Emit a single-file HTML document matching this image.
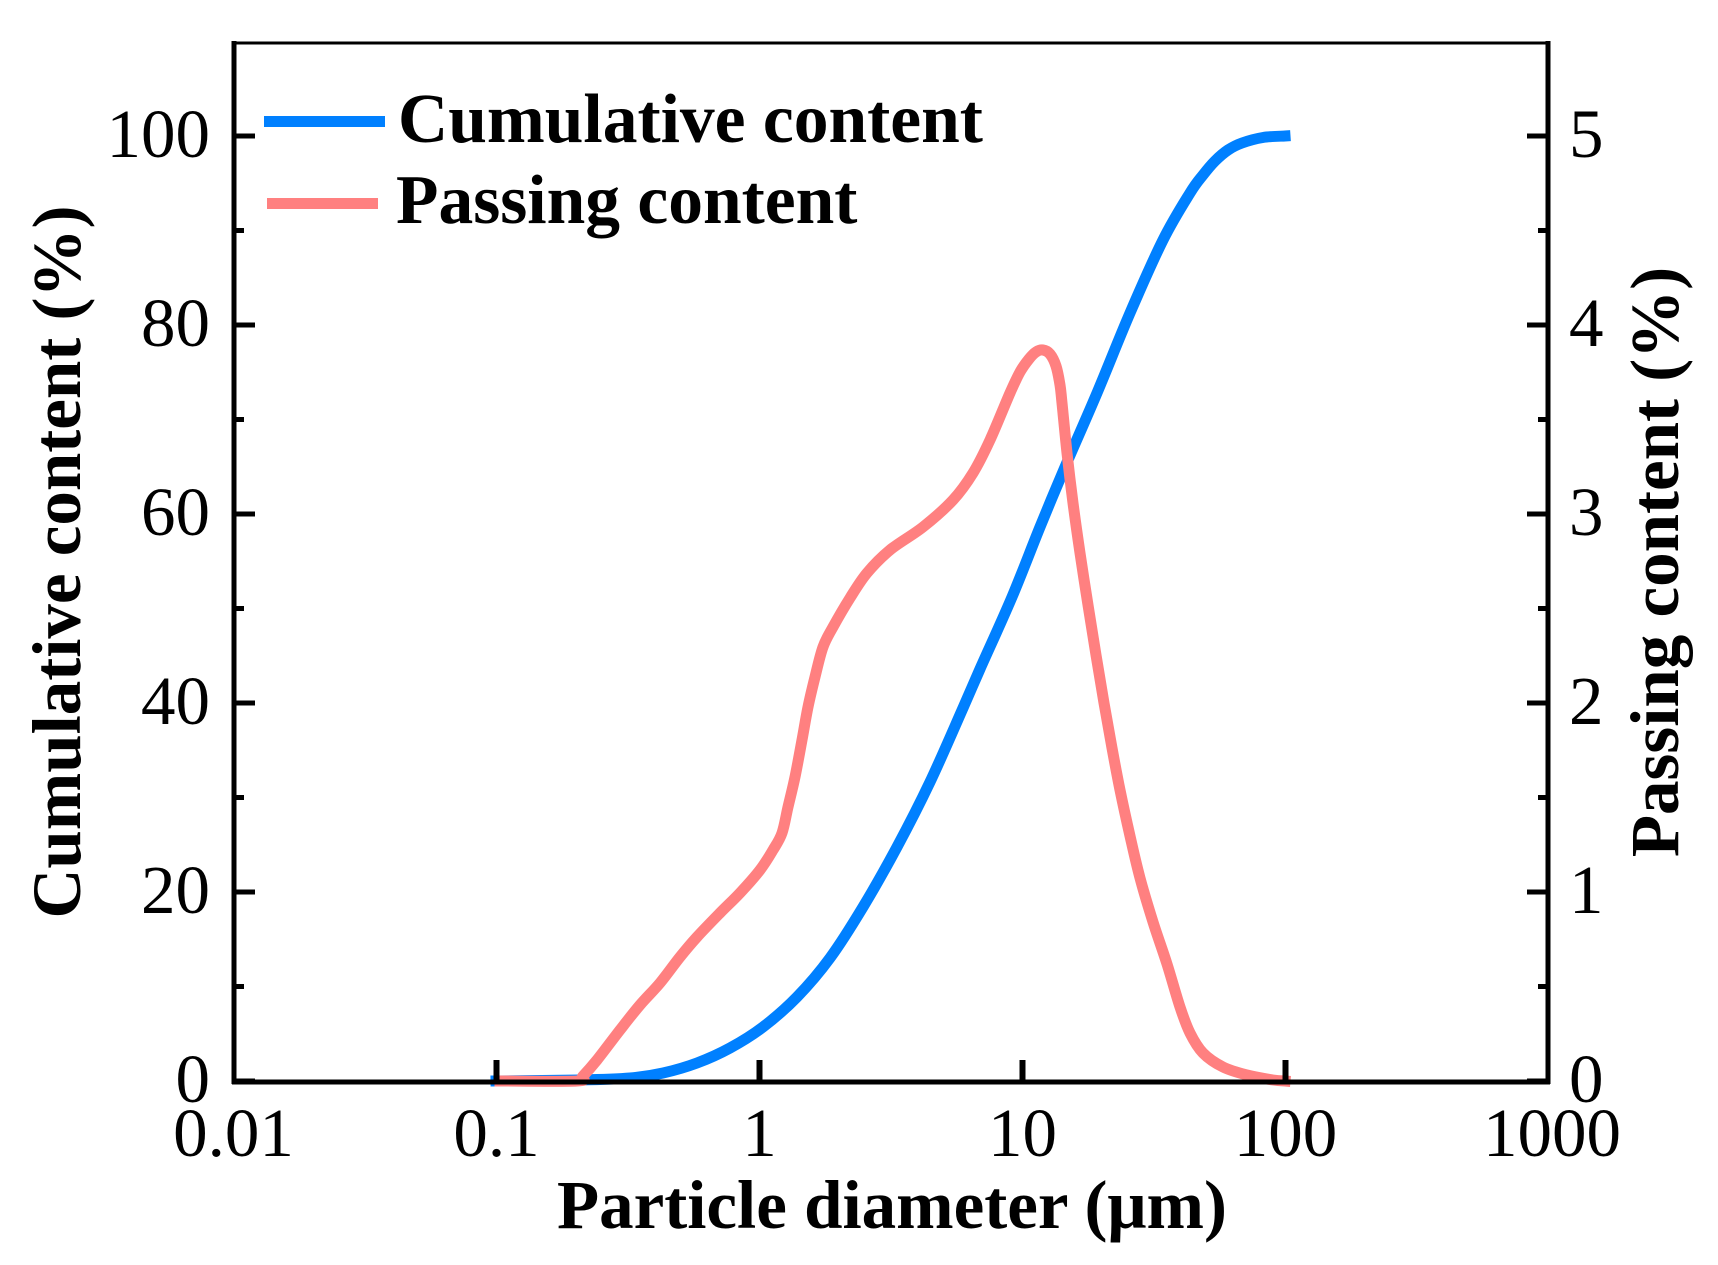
<!DOCTYPE html>
<html>
<head>
<meta charset="utf-8">
<style>
  html,body{margin:0;padding:0;background:#fff;}
  svg{display:block;}
  text{font-family:"Liberation Serif","Times New Roman",serif;fill:#000;}
  .tick{font-size:69px;}
  .title{font-size:69px;font-weight:bold;}
  .leg{font-size:69.5px;font-weight:bold;}
</style>
</head>
<body>
<svg width="1718" height="1265" viewBox="0 0 1718 1265" xmlns="http://www.w3.org/2000/svg">
  <rect x="0" y="0" width="1718" height="1265" fill="#fff"/>

  <!-- curves -->
  <polyline id="blue" fill="none" stroke="#0080ff" stroke-width="11" stroke-linejoin="round" stroke-linecap="square"
    points="496,1081 580,1080 630,1078 663,1073 697,1063 730,1048 763,1027 797,997 830,958 863,907 897,847 930,782 963,708 980,669 1012,597 1040,527 1065,467 1097,393 1130,313 1163,240 1190,193 1203,175 1215,161 1228,150 1242,143 1263,137.5 1285,136"/>
  <polyline id="pink" fill="none" stroke="#ff8080" stroke-width="11" stroke-linejoin="round" stroke-linecap="square"
    points="500,1081 577,1081 583,1076 597,1060 620,1030 640,1005 660,983 680,957 697,937 720,913 740,893 760,870 773,850 782,833 788,807 795,777 802,740 808,707 815,677 823,647 833,627 850,598 867,573 890,550 923,527 953,500 973,473 990,440 1010,393 1020,372 1029,359 1036,352 1043,350 1050,354 1056,366 1060,385 1062,403 1067,453 1073,503 1080,553 1088,605 1096,655 1104,703 1112,748 1120,790 1130,836 1140,878 1153,922 1167,964 1180,1007 1190,1033 1203,1053 1223,1067 1247,1075 1273,1080 1285,1081"/>

  <!-- axes frame -->
  <line x1="232" y1="43" x2="1550" y2="43" stroke="#000" stroke-width="3"/>
  <line x1="234" y1="41" x2="234" y2="1084" stroke="#000" stroke-width="5"/>
  <line x1="1548" y1="41" x2="1548" y2="1084" stroke="#000" stroke-width="5"/>
  <line x1="232" y1="1082" x2="1550" y2="1082" stroke="#000" stroke-width="5"/>

  <!-- left ticks -->
  <g stroke="#000" stroke-width="5">
    <line x1="234" y1="1081" x2="255" y2="1081"/>
    <line x1="234" y1="986.5" x2="244" y2="986.5"/>
    <line x1="234" y1="892" x2="255" y2="892"/>
    <line x1="234" y1="797.5" x2="244" y2="797.5"/>
    <line x1="234" y1="703" x2="255" y2="703"/>
    <line x1="234" y1="608.5" x2="244" y2="608.5"/>
    <line x1="234" y1="514" x2="255" y2="514"/>
    <line x1="234" y1="419.5" x2="244" y2="419.5"/>
    <line x1="234" y1="325" x2="255" y2="325"/>
    <line x1="234" y1="230.5" x2="244" y2="230.5"/>
    <line x1="234" y1="136" x2="255" y2="136"/>
  </g>
  <!-- right ticks -->
  <g stroke="#000" stroke-width="5">
    <line x1="1527" y1="1081" x2="1548" y2="1081"/>
    <line x1="1538" y1="986.5" x2="1548" y2="986.5"/>
    <line x1="1527" y1="892" x2="1548" y2="892"/>
    <line x1="1538" y1="797.5" x2="1548" y2="797.5"/>
    <line x1="1527" y1="703" x2="1548" y2="703"/>
    <line x1="1538" y1="608.5" x2="1548" y2="608.5"/>
    <line x1="1527" y1="514" x2="1548" y2="514"/>
    <line x1="1538" y1="419.5" x2="1548" y2="419.5"/>
    <line x1="1527" y1="325" x2="1548" y2="325"/>
    <line x1="1538" y1="230.5" x2="1548" y2="230.5"/>
    <line x1="1527" y1="136" x2="1548" y2="136"/>
  </g>
  <!-- bottom ticks -->
  <g stroke="#000" stroke-width="6">
    <line x1="496.5" y1="1082" x2="496.5" y2="1060"/>
    <line x1="759.5" y1="1082" x2="759.5" y2="1060"/>
    <line x1="1022.5" y1="1082" x2="1022.5" y2="1060"/>
    <line x1="1285.5" y1="1082" x2="1285.5" y2="1060"/>
  </g>

  <!-- left tick labels -->
  <g class="tick" text-anchor="end">
    <text x="210" y="1102">0</text>
    <text x="210" y="913">20</text>
    <text x="210" y="724">40</text>
    <text x="210" y="535">60</text>
    <text x="210" y="346">80</text>
    <text x="210" y="157">100</text>
  </g>
  <!-- right tick labels -->
  <g class="tick" text-anchor="start">
    <text x="1569" y="1102">0</text>
    <text x="1569" y="913">1</text>
    <text x="1569" y="724">2</text>
    <text x="1569" y="535">3</text>
    <text x="1569" y="346">4</text>
    <text x="1569" y="157">5</text>
  </g>
  <!-- bottom tick labels -->
  <g class="tick" text-anchor="middle">
    <text x="233.5" y="1156">0.01</text>
    <text x="496.5" y="1156">0.1</text>
    <text x="759.5" y="1156">1</text>
    <text x="1022.5" y="1156">10</text>
    <text x="1285.5" y="1156">100</text>
    <text x="1552" y="1156">1000</text>
  </g>

  <!-- axis titles -->
  <text class="title" text-anchor="middle" x="892" y="1228">Particle diameter (μm)</text>
  <text class="title" text-anchor="middle" transform="translate(80,562) rotate(-90)">Cumulative content (%)</text>
  <text class="title" text-anchor="middle" transform="translate(1678,562) rotate(-90)">Passing content (%)</text>

  <!-- legend -->
  <line x1="264" y1="121.5" x2="385" y2="121.5" stroke="#0080ff" stroke-width="11"/>
  <line x1="267" y1="203.5" x2="378" y2="203.5" stroke="#ff8080" stroke-width="11"/>
  <text class="leg" x="398" y="142">Cumulative content</text>
  <text class="leg" x="396" y="223">Passing content</text>
</svg>
<script>
(function(){
  function smooth(id){
    var el=document.getElementById(id);
    if(!el) return;
    var raw=el.getAttribute('points').trim().split(/\s+/).map(function(s){var a=s.split(',');return [parseFloat(a[0]),parseFloat(a[1])];});
    var n=raw.length;
    var d='M'+raw[0][0]+','+raw[0][1];
    for(var i=0;i<n-1;i++){
      var p0=raw[Math.max(i-1,0)],p1=raw[i],p2=raw[i+1],p3=raw[Math.min(i+2,n-1)];
      var c1x=p1[0]+(p2[0]-p0[0])/6,c1y=p1[1]+(p2[1]-p0[1])/6;
      var c2x=p2[0]-(p3[0]-p1[0])/6,c2y=p2[1]-(p3[1]-p1[1])/6;
      d+=' C'+c1x.toFixed(2)+','+c1y.toFixed(2)+' '+c2x.toFixed(2)+','+c2y.toFixed(2)+' '+p2[0]+','+p2[1];
    }
    var p=document.createElementNS('http://www.w3.org/2000/svg','path');
    p.setAttribute('d',d);
    ['fill','stroke','stroke-width','stroke-linejoin','stroke-linecap'].forEach(function(a){p.setAttribute(a,el.getAttribute(a));});
    el.parentNode.replaceChild(p,el);
  }
  smooth('blue');smooth('pink');
})();
</script>
</body>
</html>
